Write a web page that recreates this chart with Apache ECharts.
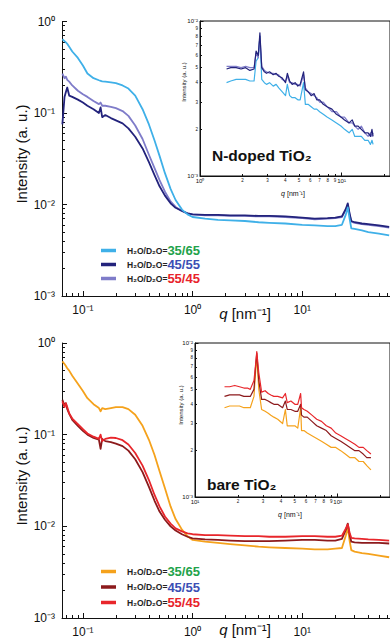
<!DOCTYPE html>
<html>
<head>
<meta charset="utf-8">
<script src="https://cdn.jsdelivr.net/npm/echarts@6/dist/echarts.min.js"></script>
<style>
  html, body { margin: 0; padding: 0; background: #fff; }
  #chart { width: 390px; height: 639px; }
</style>
</head>
<body>
<div id="chart"></div>
<script>
// ---- data (q in nm^-1, intensity in a.u.) ----
const qMain = [0.065, 0.068, 0.07, 0.072, 0.075, 0.08, 0.09, 0.1, 0.11, 0.125,
  0.14, 0.145, 0.15, 0.16, 0.18, 0.2, 0.23, 0.26, 0.3, 0.35,
  0.4, 0.45, 0.5, 0.56, 0.63, 0.7, 0.8, 0.9, 1.0, 1.3,
  1.7, 2.2, 3, 4, 5, 7, 10, 13, 17, 20,
  23, 25, 26, 27, 28, 30, 35, 40, 50, 62];

// N-doped TiO2
const nDoped35 = [0.64, 0.61, 0.59, 0.57, 0.53, 0.47, 0.40, 0.33, 0.27, 0.24,
  0.228, 0.225, 0.222, 0.22, 0.216, 0.212, 0.2, 0.185, 0.155, 0.11,
  0.075, 0.05, 0.034, 0.022, 0.0148, 0.0112, 0.0088, 0.0078, 0.0073, 0.0070,
  0.0068, 0.0067, 0.0066, 0.0064, 0.0063, 0.0062, 0.0060, 0.0059, 0.0058, 0.0058,
  0.0060, 0.0078, 0.0093, 0.0070, 0.0055, 0.0054, 0.0052, 0.0050, 0.0048, 0.0046];
const nDoped45 = [0.075, 0.15, 0.17, 0.19, 0.155, 0.15, 0.14, 0.13, 0.12, 0.11,
  0.10, 0.115, 0.09, 0.095, 0.088, 0.083, 0.077, 0.068, 0.055, 0.041,
  0.029, 0.021, 0.0158, 0.0125, 0.0103, 0.0092, 0.0085, 0.0080, 0.0078, 0.0077,
  0.0077, 0.0076, 0.0076, 0.0075, 0.0075, 0.0074, 0.0072, 0.0070, 0.0071, 0.0072,
  0.0074, 0.0090, 0.0103, 0.0080, 0.0066, 0.0064, 0.0062, 0.0061, 0.0059, 0.0057];
const nDoped55 = [0.27, 0.24, 0.25, 0.23, 0.22, 0.20, 0.175, 0.16, 0.15, 0.135,
  0.125, 0.13, 0.12, 0.12, 0.117, 0.113, 0.105, 0.093, 0.073, 0.052,
  0.035, 0.025, 0.0185, 0.0138, 0.0108, 0.0094, 0.0085, 0.0080, 0.0078, 0.0076,
  0.0076, 0.0075, 0.0075, 0.0074, 0.0074, 0.0073, 0.0071, 0.0069, 0.0070, 0.0071,
  0.0073, 0.0088, 0.0100, 0.0078, 0.0065, 0.0063, 0.0061, 0.0060, 0.0058, 0.0056];

// bare TiO2
const bare35 = [0.63, 0.59, 0.56, 0.53, 0.5, 0.44, 0.36, 0.3, 0.25, 0.215,
  0.195, 0.18, 0.195, 0.19, 0.195, 0.2, 0.2, 0.19, 0.165, 0.125,
  0.088, 0.06, 0.04, 0.026, 0.0165, 0.012, 0.0092, 0.0078, 0.0071, 0.0068,
  0.0066, 0.0064, 0.0062, 0.0060, 0.0059, 0.0058, 0.0057, 0.0056, 0.0056, 0.0057,
  0.0058, 0.0080, 0.0098, 0.0070, 0.0055, 0.0053, 0.0051, 0.0050, 0.0048, 0.0046];
const bare45 = [0.24, 0.21, 0.22, 0.19, 0.17, 0.145, 0.125, 0.11, 0.1, 0.092,
  0.088, 0.07, 0.09, 0.085, 0.083, 0.08, 0.075, 0.067, 0.054, 0.039,
  0.027, 0.019, 0.0145, 0.0118, 0.0100, 0.0090, 0.0082, 0.0077, 0.0074, 0.0072,
  0.0071, 0.0070, 0.0069, 0.0069, 0.0069, 0.0070, 0.0071, 0.0071, 0.0070, 0.0070,
  0.0073, 0.0092, 0.0107, 0.0082, 0.0068, 0.0067, 0.0066, 0.0066, 0.0066, 0.0065];
const bare55 = [0.23, 0.2, 0.22, 0.2, 0.17, 0.15, 0.13, 0.115, 0.103, 0.095,
  0.09, 0.1, 0.085, 0.09, 0.093, 0.092, 0.087, 0.078, 0.063, 0.046,
  0.032, 0.022, 0.0165, 0.0128, 0.0107, 0.0095, 0.0088, 0.0084, 0.0082, 0.0080,
  0.0080, 0.0079, 0.0078, 0.0078, 0.0077, 0.0077, 0.0078, 0.0078, 0.0077, 0.0077,
  0.0079, 0.0095, 0.0105, 0.0085, 0.0075, 0.0074, 0.0073, 0.0072, 0.0071, 0.0070];

// inset, N-doped
const qInsetN = [1.54, 1.65, 1.8, 1.95, 2.1, 2.25, 2.41, 2.49, 2.58, 2.65,
  2.73, 2.85, 2.95, 3.1, 3.29, 3.45, 3.6, 3.8, 4.02, 4.14,
  4.3, 4.48, 4.7, 4.91, 5.1, 5.39, 5.55, 5.8, 6.1, 6.4,
  6.68, 7.0, 7.43, 7.9, 8.55, 9.2, 9.9, 10.5, 11.3, 11.9,
  12.4, 13.1, 13.8, 14.6, 15.4, 16.0, 16.4, 16.7];
const insetN35 = [0.0040, 0.0041, 0.0042, 0.0042, 0.0042, 0.0041, 0.0041, 0.0055, 0.0058, 0.0080,
  0.0042, 0.0040, 0.0039, 0.0040, 0.0038, 0.0039, 0.0037, 0.0035, 0.0033, 0.0039,
  0.0033, 0.0032, 0.0032, 0.0031, 0.0031, 0.0040, 0.0029, 0.0029, 0.0028, 0.0027,
  0.0027, 0.0026, 0.0025, 0.0024, 0.0023, 0.0022, 0.0021, 0.0020, 0.0019, 0.0020,
  0.0018, 0.0018, 0.0018, 0.0017, 0.0017, 0.0016, 0.0017, 0.0016];
const insetN45 = [0.0049, 0.0050, 0.0050, 0.0049, 0.0050, 0.0048, 0.0049, 0.0064, 0.0060, 0.0084,
  0.0050, 0.0047, 0.0046, 0.0047, 0.0045, 0.0046, 0.0044, 0.0043, 0.0040, 0.0046,
  0.0041, 0.0039, 0.0040, 0.0038, 0.0039, 0.0047, 0.0036, 0.0035, 0.0033, 0.0034,
  0.0031, 0.0031, 0.0029, 0.0028, 0.0027, 0.0025, 0.0024, 0.0023, 0.0022, 0.0023,
  0.0021, 0.0021, 0.0020, 0.0019, 0.0019, 0.0018, 0.0020, 0.0018];
const insetN55 = [0.0051, 0.0051, 0.0051, 0.0050, 0.0051, 0.0050, 0.0050, 0.0062, 0.0058, 0.0080,
  0.0051, 0.0048, 0.0047, 0.0046, 0.0046, 0.0045, 0.0045, 0.0042, 0.0041, 0.0044,
  0.0040, 0.0040, 0.0039, 0.0039, 0.0038, 0.0045, 0.0037, 0.0035, 0.0034, 0.0033,
  0.0032, 0.0030, 0.0030, 0.0028, 0.0026, 0.0026, 0.0024, 0.0024, 0.0022, 0.0022,
  0.0021, 0.0020, 0.0021, 0.0019, 0.0018, 0.0019, 0.0018, 0.0019];

// inset, bare
const qInsetBare = [16.1, 17.5, 19.0, 20.5, 22.0, 23.3, 24.4, 25.9, 26.5, 27.1,
  28.0, 29.3, 31.0, 32.6, 34.0, 35.7, 38.0, 41.1, 43.0, 44.3,
  47.0, 50.1, 52.5, 55.0, 55.8, 58.0, 61.2, 66.0, 71.3, 77.0,
  83.2, 90.0, 97.0, 105, 113, 122, 132, 141, 151, 160, 171];
const insetBare35 = [0.0038, 0.0039, 0.0039, 0.0039, 0.0038, 0.0038, 0.0038, 0.0045, 0.0062, 0.0081,
  0.0050, 0.0037, 0.0036, 0.0035, 0.0034, 0.0033, 0.0032, 0.0030, 0.0037, 0.0029,
  0.0029, 0.0029, 0.0028, 0.0038, 0.0027, 0.0027, 0.0026, 0.0025, 0.0024, 0.0023,
  0.0022, 0.0021, 0.0021, 0.0020, 0.0019, 0.0018, 0.0018, 0.0017, 0.0017, 0.0016, 0.0015];
const insetBare45 = [0.0045, 0.0046, 0.0046, 0.0046, 0.0045, 0.0045, 0.0045, 0.0050, 0.0068, 0.0086,
  0.0057, 0.0043, 0.0043, 0.0042, 0.0041, 0.0040, 0.0040, 0.0038, 0.0042, 0.0037,
  0.0037, 0.0036, 0.0036, 0.0040, 0.0034, 0.0033, 0.0033, 0.0031, 0.0029, 0.0028,
  0.0027, 0.0025, 0.0024, 0.0023, 0.0022, 0.0021, 0.0020, 0.0020, 0.0019, 0.0018, 0.0018];
const insetBare55 = [0.0052, 0.0052, 0.0053, 0.0052, 0.0051, 0.0051, 0.0050, 0.0057, 0.0070, 0.0088,
  0.0064, 0.0048, 0.0049, 0.0047, 0.0046, 0.0045, 0.0045, 0.0044, 0.0047, 0.0041,
  0.0042, 0.0040, 0.0040, 0.0047, 0.0038, 0.0037, 0.0036, 0.0034, 0.0032, 0.0031,
  0.0029, 0.0028, 0.0026, 0.0025, 0.0024, 0.0023, 0.0022, 0.0021, 0.0021, 0.0020, 0.0019];

// legend text and tick labels
const ratios = ['35/65', '45/55', '55/45'];
const ratioColors = ['#22a24a', '#3b4fb5', '#e8232b'];
const mainXLabels = [0.1, 1, 10];
const mainYLabels = [0.001, 0.01, 0.1, 1];
const insetNXLabels = [1, 2, 3, 4, 5, 6, 7, 8, 9, 10];
const insetBareXLabels = [10, 20, 30, 40, 50, 60, 70, 80, 90, 100];
const insetYLabels = [0.001, 0.002, 0.003, 0.004, 0.005, 0.006, 0.007, 0.008, 0.009, 0.01];

const nColors = ['#3fb0e8', '#23237c', '#7f7cc9'];
const bareColors = ['#f5a21c', '#8c1a1c', '#e8262b'];

const FONT = '"Liberation Sans", Arial, Helvetica, sans-serif';
const lg = Math.log10;
const SUP = { '-': '\u207b', '0': '\u2070', '1': '\u00b9', '2': '\u00b2', '3': '\u00b3' };
const isInt = v => Math.abs(v - Math.round(v)) < 1e-6;
const powLabel = v => '10' + String(Math.round(v)).split('').map(c => SUP[c]).join('');

// log tick positions (1..9 per decade) between lo and hi (log10 values)
function logTicks(lo, hi) {
  const out = [];
  for (let d = Math.floor(lo); d <= Math.ceil(hi); d++) {
    for (let k = 1; k <= 9; k++) {
      const v = d + lg(k);
      if (v >= lo - 1e-9 && v <= hi + 1e-9) out.push(v);
    }
  }
  return out;
}
const majors = ts => ts.filter(isInt);

function pairs(q, v) {
  return q.map((x, i) => [lg(x), lg(v[i])]);
}

const grids = [
  { left: 62, top: 21.5, width: 329, height: 274.5 },                         // top main
  { left: 200, top: 21, width: 200, height: 155, show: true, backgroundColor: '#fff', borderColor: '#111', borderWidth: 1, z: 3 },
  { left: 62, top: 343, width: 329, height: 275 },                            // bottom main
  { left: 195, top: 343, width: 205, height: 154, show: true, backgroundColor: '#fff', borderColor: '#111', borderWidth: 1, z: 3 }
];

const xAxes = [], yAxes = [];
function addAxis(list, dim, grid, min, max, labelVals, fmt, o) {
  const ticks = logTicks(min, max);
  const base = {
    type: 'value', gridIndex: grid, min: min, max: max,
    position: dim === 'x' ? 'bottom' : 'left',
    splitLine: { show: false },
    z: o.z || 2
  };
  list.push(Object.assign({}, base, {
    axisLine: { show: true, onZero: false, lineStyle: { color: '#111', width: 1 } },
    axisTick: { show: true, inside: true, length: o.minor, customValues: ticks, lineStyle: { color: '#111', width: 1 } },
    axisLabel: {
      customValues: labelVals.map(lg), formatter: fmt, margin: o.margin, color: '#111',
      fontSize: o.fs, fontFamily: FONT, rich: o.rich
    }
  }));
  list.push(Object.assign({}, base, {
    axisLine: { show: false, onZero: false },
    axisTick: { show: true, inside: true, length: o.major, customValues: majors(ticks), lineStyle: { color: '#111', width: 1 } },
    axisLabel: { show: false }
  }));
  return list.length - 2;
}

const mainFmt = v => powLabel(v);
const insetRich = {
  M: { fontSize: 6, fontFamily: FONT, color: '#111' },
  m: { fontSize: 4.5, fontFamily: FONT, color: '#111' }
};
const insetFmt = v => isInt(v) ? '{M|' + powLabel(v) + '}' : '{m|' + Math.round(Math.pow(10, v - Math.floor(v + 1e-9))) + '}';

// top main
const xTop = addAxis(xAxes, 'x', 0, lg(0.0645), 1.8, mainXLabels, mainFmt, { minor: 3, major: 5, margin: 8, fs: 12 });
const yTop = addAxis(yAxes, 'y', 0, -3, 0, mainYLabels, mainFmt, { minor: 3, major: 5, margin: 7, fs: 12 });
// top inset
const xTopIn = addAxis(xAxes, 'x', 1, 0, 200 / 149, insetNXLabels, insetFmt, { minor: 2, major: 3.5, margin: 2, fs: 5, rich: insetRich, z: 4 });
const yTopIn = addAxis(yAxes, 'y', 1, -3, -2, insetYLabels, insetFmt, { minor: 2, major: 3.5, margin: 2, fs: 5, rich: insetRich, z: 4 });
// bottom main
const xBot = addAxis(xAxes, 'x', 2, lg(0.0645), 1.8, mainXLabels, mainFmt, { minor: 3, major: 5, margin: 8, fs: 12 });
const yBot = addAxis(yAxes, 'y', 2, -3, 0, mainYLabels, mainFmt, { minor: 3, major: 5, margin: 7, fs: 12 });
// bottom inset
const xBotIn = addAxis(xAxes, 'x', 3, 1, 1 + 205 / 150, insetBareXLabels, insetFmt, { minor: 2, major: 3.5, margin: 2, fs: 5, rich: insetRich, z: 4 });
const yBotIn = addAxis(yAxes, 'y', 3, -3, -2, insetYLabels, insetFmt, { minor: 2, major: 3.5, margin: 2, fs: 5, rich: insetRich, z: 4 });

function line(name, xi, yi, q, v, color, width, z) {
  return {
    name: name, type: 'line', xAxisIndex: xi, yAxisIndex: yi,
    data: pairs(q, v), showSymbol: false, symbol: 'none', clip: true,
    lineStyle: { color: color, width: width, join: 'round' },
    itemStyle: { color: color }, z: z
  };
}

const series = [
  line('N 55/45', xTop, yTop, qMain, nDoped55, nColors[2], 1.8, 2),
  line('N 45/55', xTop, yTop, qMain, nDoped45, nColors[1], 1.8, 2),
  line('N 35/65', xTop, yTop, qMain, nDoped35, nColors[0], 1.8, 2),
  line('Ni 35/65', xTopIn, yTopIn, qInsetN, insetN35, nColors[0], 1.2, 5),
  line('Ni 55/45', xTopIn, yTopIn, qInsetN, insetN55, nColors[2], 1.2, 5),
  line('Ni 45/55', xTopIn, yTopIn, qInsetN, insetN45, nColors[1], 1.2, 5),
  line('B 35/65', xBot, yBot, qMain, bare35, bareColors[0], 1.8, 2),
  line('B 45/55', xBot, yBot, qMain, bare45, bareColors[1], 1.8, 2),
  line('B 55/45', xBot, yBot, qMain, bare55, bareColors[2], 1.8, 2),
  line('Bi 35/65', xBotIn, yBotIn, qInsetBare, insetBare35, bareColors[0], 1.2, 5),
  line('Bi 45/55', xBotIn, yBotIn, qInsetBare, insetBare45, bareColors[1], 1.2, 5),
  line('Bi 55/45', xBotIn, yBotIn, qInsetBare, insetBare55, bareColors[2], 1.2, 5)
];

const legendRich = {
  a: { fontSize: 8.5, fontWeight: 'bold', fontFamily: FONT, color: '#222', padding: [0, 0, 0, 6] },
  c0: { fontSize: 13, fontWeight: 'bold', fontFamily: FONT, color: ratioColors[0] },
  c1: { fontSize: 13, fontWeight: 'bold', fontFamily: FONT, color: ratioColors[1] },
  c2: { fontSize: 13, fontWeight: 'bold', fontFamily: FONT, color: ratioColors[2] }
};
function legendAt(prefix, top, gap) {
  return {
    orient: 'vertical', left: 96, top: top, itemGap: gap,
    icon: 'rect', itemWidth: 15, itemHeight: 3.5,
    data: ratios.map(r => prefix + ' ' + r),
    selectedMode: false, z: 8,
    formatter: name => {
      const r = name.split(' ')[1];
      return '{a|H\u2082O/D\u2082O=}{c' + ratios.indexOf(r) + '|' + r + '}';
    },
    textStyle: { rich: legendRich, lineHeight: 12 }
  };
}

function txt(x, y, text, style, rot) {
  return {
    type: 'text', x: x, y: y, rotation: rot || 0, z: 10,
    style: Object.assign({ text: text, fill: '#111', fontFamily: FONT, align: 'center', verticalAlign: 'middle' }, style)
  };
}
const qRich = fs => ({ i: { fontStyle: 'italic', fontSize: fs, fontFamily: FONT, fill: '#111' }, r: { fontSize: fs, fontFamily: FONT, fill: '#111' } });
const qTitle = '{i|q} {r|[nm\u207b\u00b9]}';

const chart = echarts.init(document.getElementById('chart'), null, { renderer: 'svg' });
chart.setOption({
  animation: false,
  backgroundColor: '#fff',
  grid: grids,
  xAxis: xAxes,
  yAxis: yAxes,
  legend: [legendAt('N', 239, 1), legendAt('B', 560, 2.5)],
  series: series,
  graphic: [
    txt(21, 154, 'Intensity (a. u.)', { fontSize: 15 }, Math.PI / 2),
    txt(21, 476, 'Intensity (a. u.)', { fontSize: 15 }, Math.PI / 2),
    txt(245, 313, qTitle, { fontSize: 15, rich: qRich(15) }),
    txt(245, 629, qTitle, { fontSize: 15, rich: qRich(15) }),
    txt(184, 82, 'Intensity (a. u.)', { fontSize: 6 }, Math.PI / 2),
    txt(181, 405, 'Intensity (a. u.)', { fontSize: 6 }, Math.PI / 2),
    txt(293, 193, qTitle, { fontSize: 7, rich: qRich(7) }),
    txt(290, 514, qTitle, { fontSize: 7, rich: qRich(7) }),
    txt(212, 155, 'N-doped TiO\u2082', { fontSize: 15.5, fontWeight: 'bold', align: 'left' }),
    txt(207, 484, 'bare TiO\u2082', { fontSize: 15.5, fontWeight: 'bold', align: 'left' })
  ]
});
</script>
</body>
</html>
